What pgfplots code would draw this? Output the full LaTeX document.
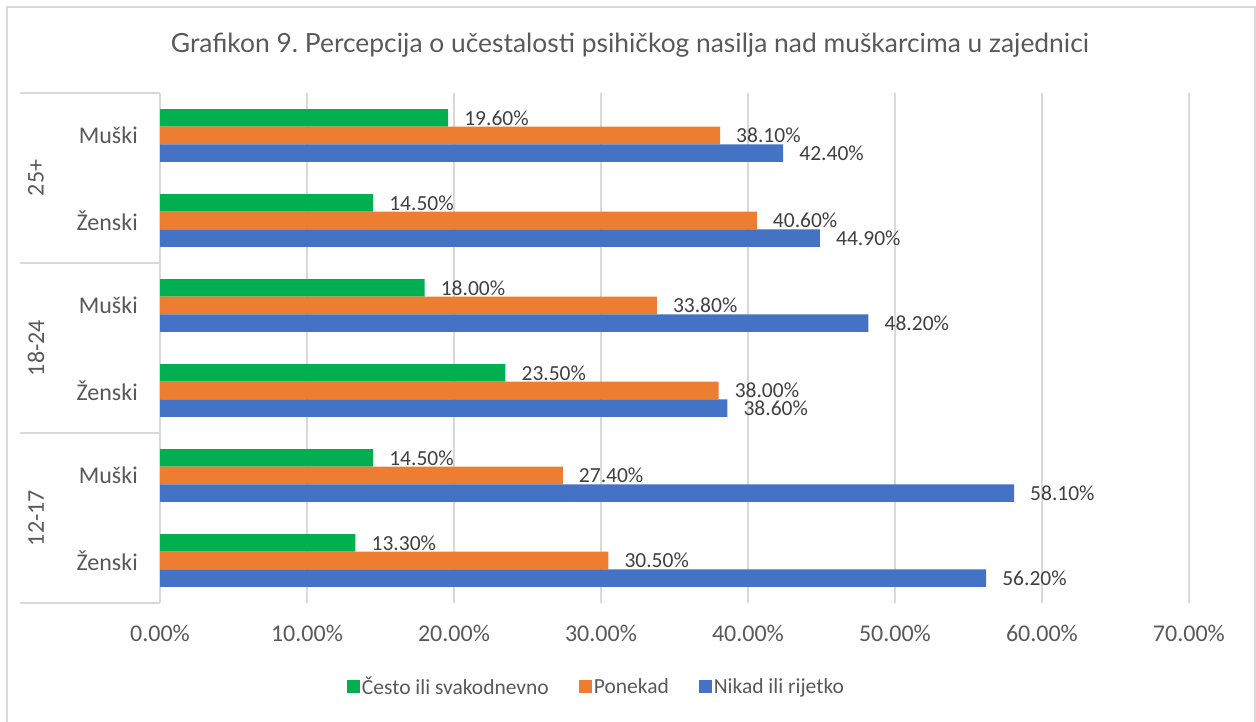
\documentclass[border=0pt]{standalone}
\usepackage{fontspec}
\setmainfont{Carlito}
\newfontfamily\lato{Lato}
\usepackage{pgfplots}
\pgfplotsset{compat=1.18}
\definecolor{cgreen}{HTML}{00B050}
\definecolor{corange}{HTML}{ED7D31}
\definecolor{cblue}{HTML}{4472C4}
\definecolor{gridc}{HTML}{D9D9D9}
\definecolor{txt}{HTML}{595959}
\definecolor{lbl}{HTML}{404040}
\frenchspacing
\begin{document}
\begin{tikzpicture}
\useasboundingbox (0,0) rectangle (1256pt,721pt);
\draw[gridc, line width=1.2pt] (7pt,-2pt) -- (7pt,714pt) -- (1255pt,714pt) -- (1255pt,-2pt);
\node[anchor=base, text=txt, font=\lato\fontsize{26.4}{30}\selectfont] at (630pt,668pt) {Grafikon 9. Percepcija o učestalosti psihičkog nasilja nad muškarcima u zajednici};
\begin{axis}[
  at={(160pt,118pt)}, anchor=south west,
  scale only axis, width=1029pt, height=510pt,
  xmin=0, xmax=70, ymin=-0.5, ymax=5.5,
  xbar, bar width=17.6pt,
  clip=false,
  axis y line*=left, axis x line*=bottom,
  axis line style={-},
  x axis line style={draw=none},
  y axis line style={draw=gridc, line width=1.2pt},
  xtick={0,10,...,70},
  xticklabels={0.00\%,10.00\%,20.00\%,30.00\%,40.00\%,50.00\%,60.00\%,70.00\%},
  ytick={0,...,5},
  yticklabels={Ženski,Muški,Ženski,Muški,Ženski,Muški},
  major tick length=0pt, tick style={draw=none},
  xmajorgrids, grid style={draw=gridc, line width=1.2pt},
  tick label style={font=\fontsize{24}{28}\selectfont, text=txt, inner sep=0pt},
  xticklabel style={yshift=-22pt},
  yticklabel style={xshift=-22pt},
  point meta=x,
  nodes near coords={\pgfmathprintnumber[fixed,fixed zerofill,precision=2]{\pgfplotspointmeta}\%},
  /pgf/number format/assume math mode=true,
  every node near coord/.append style={anchor=west, inner sep=0pt, xshift=16pt, font=\fontsize{21.5}{25}\selectfont, text=lbl},
  legend columns=3,
  legend style={at={(0.1817,-0.1637)}, anchor=west, draw=none, fill=none, inner sep=0pt, outer sep=0pt,
    font=\fontsize{21.5}{25}\selectfont, text=txt,
    nodes={inner xsep=2pt, inner ysep=0pt},
    /tikz/every even column/.append style={column sep=28pt}},
  legend image code/.code={\fill[#1] (0pt,-6.5pt) rectangle (13pt,6.5pt);},
]
\addplot[fill=cgreen, draw=none, bar shift=17.6pt] coordinates {(13.3,0) (14.5,1) (23.5,2) (18.0,3) (14.5,4) (19.6,5)};
\addlegendentry{Često ili svakodnevno}
\addplot[fill=corange, draw=none, bar shift=0pt] coordinates {(30.5,0) (27.4,1) (38.0,2) (33.8,3) (40.6,4) (38.1,5)};
\addlegendentry{Ponekad}
\addplot[fill=cblue, draw=none, bar shift=-17.6pt] coordinates {(56.2,0) (58.1,1) (38.6,2) (48.2,3) (44.9,4) (42.4,5)};
\addlegendentry{Nikad ili rijetko}
\draw[gridc, line width=1.2pt] ([xshift=-140pt]axis cs:0,-0.5) -- (axis cs:0,-0.5);
\draw[gridc, line width=1.2pt] ([xshift=-140pt]axis cs:0,1.5) -- (axis cs:0,1.5);
\draw[gridc, line width=1.2pt] ([xshift=-140pt]axis cs:0,3.5) -- (axis cs:0,3.5);
\draw[gridc, line width=1.2pt] ([xshift=-140pt]axis cs:0,5.5) -- (axis cs:0,5.5);
\node[rotate=90, text=txt, font=\fontsize{24}{28}\selectfont] at ([xshift=-124pt]axis cs:0,0.5) {12-17};
\node[rotate=90, text=txt, font=\fontsize{24}{28}\selectfont] at ([xshift=-124pt]axis cs:0,2.5) {18-24};
\node[rotate=90, text=txt, font=\fontsize{24}{28}\selectfont] at ([xshift=-124pt]axis cs:0,4.5) {25+};
\end{axis}
\end{tikzpicture}
\end{document}
